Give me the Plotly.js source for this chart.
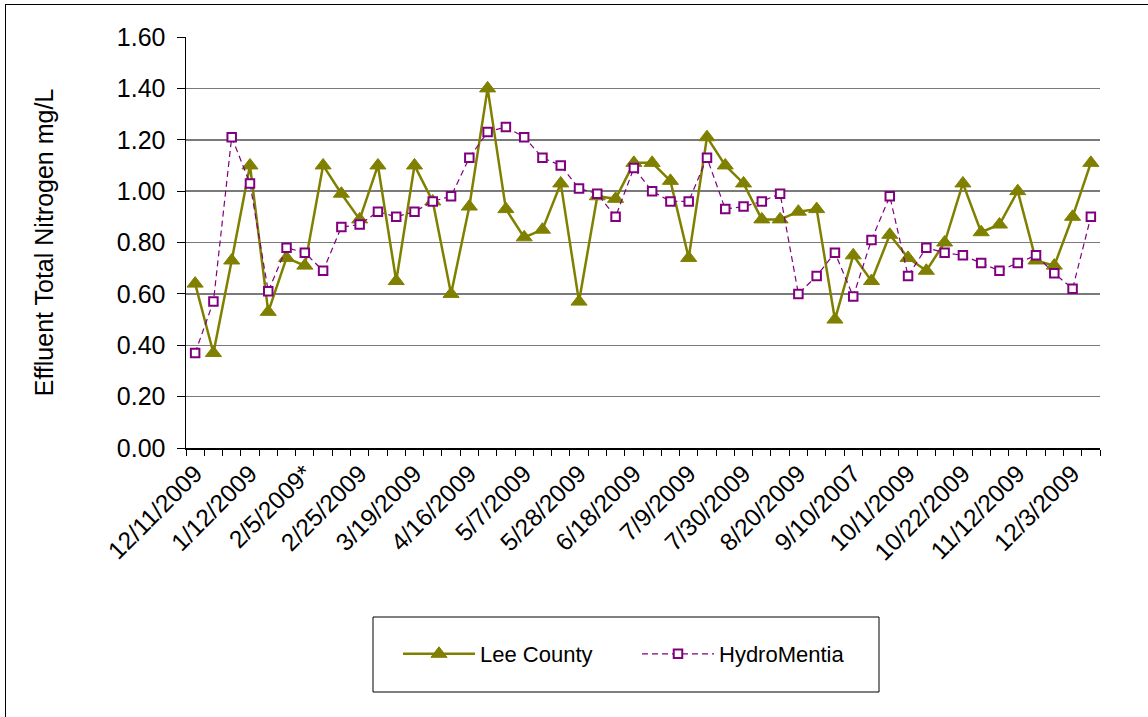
<!DOCTYPE html>
<html>
<head>
<meta charset="utf-8">
<script src="https://cdn.plot.ly/plotly-3.0.1.min.js"></script>
<style>
  html, body { margin: 0; padding: 0; background: #fff; }
  #wrap { position: relative; width: 1148px; height: 717px; overflow: hidden; }
  #chart { position: absolute; left: 0; top: 0; width: 1148px; height: 717px; }
  #frame { position: absolute; left: 5px; top: 4px; width: 1160px; height: 730px;
           border: 1.5px solid #000; pointer-events: none; box-sizing: border-box; }
</style>
</head>
<body>
<div id="wrap">
  <div id="chart"></div>
  <div id="frame"></div>
</div>
<script>
// Sample dates (category axis); only every third is labelled in the chart
const categories = [
  "12/11/2009", "12/18/2009", "1/6/2009", "1/12/2009", "1/22/2009", "1/29/2009",
  "2/5/2009*", "2/12/2009", "2/19/2009", "2/25/2009", "3/5/2009", "3/12/2009",
  "3/19/2009", "3/26/2009", "4/2/2009", "4/16/2009", "4/23/2009", "4/30/2009",
  "5/7/2009", "5/14/2009", "5/21/2009", "5/28/2009", "6/4/2009", "6/11/2009",
  "6/18/2009", "6/25/2009", "7/2/2009", "7/9/2009", "7/16/2009", "7/23/2009",
  "7/30/2009", "8/6/2009", "8/13/2009", "8/20/2009", "8/27/2009", "9/3/2009",
  "9/10/2007", "9/17/2009", "9/24/2009", "10/1/2009", "10/8/2009", "10/15/2009",
  "10/22/2009", "10/29/2009", "11/5/2009", "11/12/2009", "11/19/2009", "11/26/2009",
  "12/3/2009", "12/10/2009"
];

// Labels shown on the x axis
const tickLabels = [
  "12/11/2009", "1/12/2009", "2/5/2009*", "2/25/2009", "3/19/2009", "4/16/2009",
  "5/7/2009", "5/28/2009", "6/18/2009", "7/9/2009", "7/30/2009", "8/20/2009",
  "9/10/2007", "10/1/2009", "10/22/2009", "11/12/2009", "12/3/2009"
];

// Effluent total nitrogen, mg/L
const leeCounty = [
  0.64, 0.37, 0.73, 1.10, 0.53, 0.74, 0.71, 1.10, 0.99, 0.89,
  1.10, 0.65, 1.10, 0.96, 0.60, 0.94, 1.40, 0.93, 0.82, 0.85,
  1.03, 0.57, 0.98, 0.97, 1.11, 1.11, 1.04, 0.74, 1.21, 1.10,
  1.03, 0.89, 0.89, 0.92, 0.93, 0.50, 0.75, 0.65, 0.83, 0.74,
  0.69, 0.80, 1.03, 0.84, 0.87, 1.00, 0.73, 0.71, 0.90, 1.11
];

const hydroMentia = [
  0.37, 0.57, 1.21, 1.03, 0.61, 0.78, 0.76, 0.69, 0.86, 0.87,
  0.92, 0.90, 0.92, 0.96, 0.98, 1.13, 1.23, 1.25, 1.21, 1.13,
  1.10, 1.01, 0.99, 0.90, 1.09, 1.00, 0.96, 0.96, 1.13, 0.93,
  0.94, 0.96, 0.99, 0.60, 0.67, 0.76, 0.59, 0.81, 0.98, 0.67,
  0.78, 0.76, 0.75, 0.72, 0.69, 0.72, 0.75, 0.68, 0.62, 0.90
];

const xIdx = categories.map((c, i) => i);
const tickVals = tickLabels.map(l => categories.indexOf(l));
const boundaries = categories.map((c, i) => i - 0.5).concat([categories.length - 0.5]);

const FONT = "Liberation Sans, Arial, sans-serif";

const traces = [
  {
    x: xIdx, y: leeCounty, text: categories, name: "Lee County",
    type: "scatter", mode: "lines+markers",
    line: { color: "#808000", width: 2.5 },
    marker: { symbol: "triangle-up", size: 14, color: "#808000",
              line: { color: "#808000", width: 1 } },
    hovertemplate: "%{text}: %{y:.2f}<extra>Lee County</extra>"
  },
  {
    x: xIdx, y: hydroMentia, text: categories, name: "HydroMentia",
    type: "scatter", mode: "lines+markers",
    line: { color: "#800080", width: 1.2, dash: "6px,4px" },
    marker: { symbol: "square", size: 8.5, color: "#ffffff",
              line: { color: "#800080", width: 2 } },
    hovertemplate: "%{text}: %{y:.2f}<extra>HydroMentia</extra>"
  }
];

const layout = {
  width: 1148, height: 717,
  margin: { l: 186, r: 48, t: 37, b: 269 },
  paper_bgcolor: "#ffffff", plot_bgcolor: "#ffffff",
  font: { family: FONT, color: "#000", size: 24 },
  showlegend: true,
  xaxis: {
    type: "linear",
    range: [-0.5, categories.length - 0.5],
    tickmode: "array", tickvals: tickVals, ticktext: tickLabels,
    tickangle: -45,
    ticks: "",
    tickfont: { family: FONT, size: 24.5, color: "#000" },
    showgrid: false, zeroline: false,
    showline: true, linecolor: "#000", linewidth: 1.5,
    minor: { tickmode: "array", tickvals: boundaries, ticks: "outside",
             ticklen: 6, tickwidth: 1, tickcolor: "#000", showgrid: false },
    automargin: false, fixedrange: true
  },
  yaxis: {
    range: [0, 1.6], tickmode: "linear", tick0: 0, dtick: 0.2,
    tickformat: ".2f",
    tickfont: { family: FONT, size: 25, color: "#000" },
    ticks: "outside", ticklen: 8, tickwidth: 1, tickcolor: "#000",
    ticklabelstandoff: 6,
    showgrid: true, gridcolor: "#7a7a7a", gridwidth: 1.5,
    zeroline: false,
    showline: true, linecolor: "#000", linewidth: 1.5,
    title: { text: "Effluent Total Nitrogen mg/L",
             font: { family: FONT, size: 25, color: "#000" }, standoff: 56 },
    automargin: false, fixedrange: true
  },
  legend: {
    orientation: "h",
    x: (398 - 186) / 914, xanchor: "left",
    y: (448 - 654) / 411, yanchor: "middle",
    font: { family: FONT, size: 22, color: "#000" },
    bgcolor: "rgba(0,0,0,0)", borderwidth: 0,
    entrywidth: 152, entrywidthmode: "pixels",
    itemwidth: 72
  },
  shapes: [{
    type: "rect", xref: "paper", yref: "paper",
    x0: (373 - 186) / 914, x1: (879 - 186) / 914,
    y0: (448 - 692) / 411, y1: (448 - 617) / 411,
    line: { color: "#000", width: 1 }, fillcolor: "rgba(0,0,0,0)"
  }]
};

Plotly.newPlot("chart", traces, layout, { displayModeBar: false, staticPlot: true });
</script>
</body>
</html>
